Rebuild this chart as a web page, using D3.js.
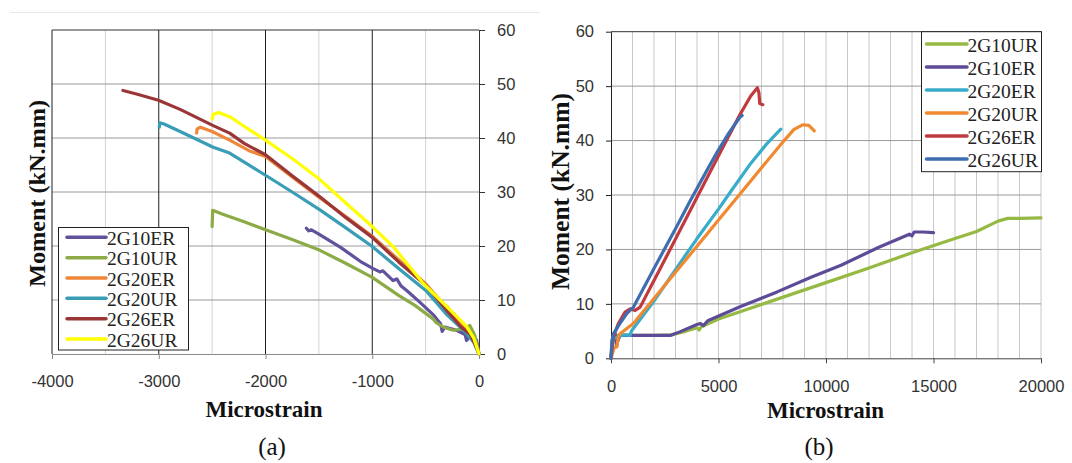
<!DOCTYPE html>
<html><head><meta charset="utf-8">
<script src="https://cdn.jsdelivr.net/npm/d3@7"></script>
<style>body{margin:0;background:#fff}svg{display:block}</style>
</head><body>
<svg id="c" width="1072" height="463"></svg>
<script>
// ---------- DATA: panel (a) [strain, moment] ----------
const a_2G10ER = [[-1617,23.3],[-1595,22.8],[-1570,23.0],[-1508,22.3],[-1300,19.8],[-1100,17.0],[-1000,15.9],[-929,15.2],[-900,15.4],[-805,13.6],[-770,13.9],[-730,12.6],[-680,11.8],[-555,9.6],[-430,7.3],[-360,5.6],[-345,4.2],[-320,5.0],[-211,4.4],[-130,3.6],[-117,2.5],[-90,3.1],[-23,2.6],[0,0]];
const a_2G10UR = [[-2500,23.6],[-2495,26.6],[-2400,25.9],[-2200,24.5],[-2000,23.0],[-1750,21.2],[-1490,19.2],[-1250,16.8],[-1000,14.2],[-750,10.8],[-600,9.0],[-430,6.5],[-400,5.8],[-337,5.0],[-243,4.4],[-150,4.6],[-86,5.3],[-40,3.5],[0,0]];
const a_2G20ER = [[-2645,40.9],[-2640,41.7],[-2610,42.0],[-2500,41.2],[-2336,39.6],[-2150,37.6],[-2000,36.6],[-1750,32.8],[-1490,28.9],[-1250,25.5],[-1000,21.8],[-750,17.4],[-500,13.0],[-330,9.2],[-290,8.6],[-200,6.0],[-100,4.5],[-40,2.5],[0,0]];
const a_2G20UR = [[-2995,42.0],[-2990,42.8],[-2950,42.6],[-2800,41.2],[-2490,38.3],[-2336,37.2],[-2000,33.1],[-1750,30.0],[-1490,26.7],[-1250,23.4],[-1000,19.9],[-750,15.8],[-490,11.6],[-297,7.2],[-135,4.2],[-50,2.2],[0,0]];
const a_2G26ER = [[-3335,48.8],[-3200,48.1],[-3003,47.0],[-2800,45.3],[-2490,42.3],[-2336,40.9],[-2200,39.0],[-2000,36.9],[-1750,33.0],[-1490,29.1],[-1250,25.3],[-1000,21.6],[-750,17.0],[-490,12.6],[-300,8.0],[-168,5.0],[-80,3.6],[-30,1.5],[0,0]];
const a_2G26UR = [[-2497,43.5],[-2490,44.4],[-2440,44.7],[-2330,43.9],[-2233,42.6],[-2000,39.6],[-1750,36.2],[-1490,32.3],[-1250,28.0],[-1000,23.6],[-800,19.8],[-524,13.1],[-305,8.8],[-200,6.8],[-117,5.1],[-50,3.0],[0,0]];
const namesA = ["2G10ER","2G10UR","2G20ER","2G20UR","2G26ER","2G26UR"];
const xTicksA = [-4000,-3000,-2000,-1000,0];
const yTicks = [0,10,20,30,40,50,60];

// ---------- DATA: panel (b) [strain, moment] ----------
const b_2G10UR = [[0,0],[50,3.5],[200,4.2],[800,4.2],[2000,4.2],[2800,4.3],[3500,5.0],[4000,5.6],[4100,5.2],[4200,5.8],[5000,7.2],[7000,9.9],[10000,13.9],[12000,16.6],[14000,19.4],[16000,22.0],[17000,23.3],[18000,25.2],[18450,25.7],[19000,25.7],[20000,25.8]];
const b_2G10ER = [[0,0],[80,3.8],[200,4.4],[266,2.2],[300,3.0],[420,4.2],[1000,4.2],[2000,4.2],[2757,4.2],[3224,4.9],[4000,6.2],[4159,6.4],[4300,6.0],[4500,6.9],[6028,9.5],[7727,12.2],[9303,14.9],[10700,17.1],[12458,20.4],[13878,22.8],[14000,22.5],[14100,23.2],[14500,23.2],[15000,23.1]];
const b_2G20ER = [[0,0],[100,3.5],[266,3.9],[600,4.3],[888,4.2],[950,5.0],[2000,10.5],[3000,16.3],[4000,22.0],[5000,27.4],[5561,30.6],[6500,35.8],[7200,39.2],[7897,42.1]];
const b_2G20UR = [[0,0],[150,2.0],[266,2.1],[343,3.9],[420,4.5],[1042,6.4],[2000,11.0],[3000,15.8],[4000,20.6],[5000,25.4],[6000,30.2],[7000,35.0],[8052,40.0],[8500,42.0],[8910,42.9],[9200,42.8],[9455,41.8]];
const b_2G26ER = [[0,0],[110,3.9],[343,6.4],[654,8.5],[888,9.1],[1121,8.8],[1355,9.4],[2000,14.3],[3000,21.9],[3925,29.0],[5000,37.2],[6000,44.8],[6500,48.2],[6808,49.7],[6880,48.8],[6920,46.8],[7060,46.6]];
const b_2G26UR = [[0,0],[40,3.0],[110,4.5],[420,6.4],[733,8.2],[1042,9.4],[2000,16.5],[3000,23.8],[3692,29.0],[4500,34.8],[5000,38.3],[5500,41.5],[6000,44.3],[6100,44.6]];
const namesB = ["2G10UR","2G10ER","2G20ER","2G20UR","2G26ER","2G26UR"];
const xTicksB = [0,5000,10000,15000,20000];

// ---------- STYLES ----------
const colorsA = ["#62519c","#8cab47","#ee873a","#3a9db6","#9b3637","#ffff00"];
const colorsB = ["#96b943","#5d4b99","#3aaccb","#f0892f","#c13a3f","#3e6eb0"];
const seriesA = [a_2G10ER,a_2G10UR,a_2G20ER,a_2G20UR,a_2G26ER,a_2G26UR];
const seriesB = [b_2G10UR,b_2G10ER,b_2G20ER,b_2G20UR,b_2G26ER,b_2G26UR];

const svg = d3.select("#c");
svg.append("rect").attr("width",1072).attr("height",463).attr("fill","#fff");
svg.append("line").attr("x1",10).attr("x2",540).attr("y1",12.5).attr("y2",12.5).attr("stroke","#e8e8e8");

const tickFont = "'Liberation Sans', Arial, sans-serif";
const serif = "'Liberation Serif', 'Times New Roman', serif";
const plainFmt = d => String(d);

function styleAxis(g, domainColor){
  g.selectAll("text").attr("font-family",tickFont).attr("font-size",16.5).attr("fill","#333");
  g.selectAll("line").attr("stroke",domainColor);
  g.select(".domain").attr("stroke",domainColor);
}

// ================= PANEL (a) =================
const xA = d3.scaleLinear().domain([-4000,0]).range([52,479]);
const yA = d3.scaleLinear().domain([0,60]).range([354,30]);
const gA = svg.append("g");

gA.selectAll(".vminA").data([-3500,-2500,-1500,-500]).join("line")
  .attr("x1",d=>xA(d)).attr("x2",d=>xA(d)).attr("y1",yA(60)).attr("y2",yA(0))
  .attr("stroke","#d2d2d2").attr("stroke-width",1);
gA.selectAll(".hA").data([10,20,30,40,50]).join("line")
  .attr("x1",xA(-4000)).attr("x2",xA(0)).attr("y1",d=>yA(d)).attr("y2",d=>yA(d))
  .attr("stroke","#9a9a9a").attr("stroke-width",1);
gA.selectAll(".vmajA").data([-4000,-3000,-2000,-1000]).join("line")
  .attr("x1",d=>xA(d)).attr("x2",d=>xA(d)).attr("y1",yA(60)).attr("y2",yA(0))
  .attr("stroke","#1e1e1e").attr("stroke-width",1);
gA.append("line").attr("x1",xA(-4000)).attr("x2",xA(0)).attr("y1",yA(60)).attr("y2",yA(60))
  .attr("stroke","#333").attr("stroke-width",1);

const axBA = gA.append("g").attr("transform",`translate(0,${yA(0)})`)
  .call(d3.axisBottom(xA).tickValues(xTicksA).tickSize(5).tickSizeOuter(0).tickPadding(16).tickFormat(plainFmt));
styleAxis(axBA,"#8a8a8a");
const axRA = gA.append("g").attr("transform",`translate(${xA(0)},0)`)
  .call(d3.axisRight(yA).tickValues(yTicks).tickSize(6).tickSizeOuter(0).tickPadding(12).tickFormat(plainFmt));
styleAxis(axRA,"#333");

const lineA = d3.line().x(d=>xA(d[0])).y(d=>yA(d[1]));
seriesA.forEach((s,i)=>{
  gA.append("path").datum(s).attr("d",lineA).attr("fill","none")
    .attr("stroke",colorsA[i]).attr("stroke-width",3.2)
    .attr("stroke-linejoin","round").attr("stroke-linecap","round");
});

// legend (a)
const legA = gA.append("g");
legA.append("rect").attr("x",58.5).attr("y",227.5).attr("width",130).attr("height",122.5)
  .attr("fill","#fff").attr("stroke","#222").attr("stroke-width",1);
namesA.forEach((n,i)=>{
  const cy = 238.3 + i*20.35;
  legA.append("line").attr("x1",67).attr("x2",106).attr("y1",cy-1).attr("y2",cy-1)
    .attr("stroke",colorsA[i]).attr("stroke-width",3.5).attr("stroke-linecap","round");
  legA.append("text").attr("x",107).attr("y",cy+6.5).text(n)
    .attr("font-family",serif).attr("font-size",19.5).attr("fill","#222");
});

gA.append("text").attr("x",264).attr("y",417).attr("text-anchor","middle")
  .attr("font-family",serif).attr("font-weight","bold").attr("font-size",23).attr("fill","#111")
  .text("Microstrain");
gA.append("text").attr("transform","translate(44.5,193.5) rotate(-90)").attr("text-anchor","middle")
  .attr("font-family",serif).attr("font-weight","bold").attr("font-size",24).attr("fill","#111")
  .attr("textLength",187).attr("lengthAdjust","spacingAndGlyphs")
  .text("Moment (kN.mm)");
gA.append("text").attr("x",272).attr("y",455).attr("text-anchor","middle")
  .attr("font-family",serif).attr("font-size",25).attr("fill","#111").text("(a)");

// ================= PANEL (b) =================
const xB = d3.scaleLinear().domain([0,20000]).range([611,1041]);
const yB = d3.scaleLinear().domain([0,60]).range([358.3,31.7]);
const gB = svg.append("g");

gB.selectAll(".vB").data(d3.range(1000,20001,1000)).join("line")
  .attr("x1",d=>xB(d)).attr("x2",d=>xB(d)).attr("y1",yB(60)).attr("y2",yB(0))
  .attr("stroke","#c8c8c8").attr("stroke-width",1);
gB.selectAll(".hB").data([10,20,30,40,50]).join("line")
  .attr("x1",xB(0)).attr("x2",xB(20000)).attr("y1",d=>yB(d)).attr("y2",d=>yB(d))
  .attr("stroke","#9a9a9a").attr("stroke-width",1);
gB.append("line").attr("x1",xB(0)).attr("x2",xB(20000)).attr("y1",yB(60)).attr("y2",yB(60))
  .attr("stroke","#333").attr("stroke-width",1);

const axLB = gB.append("g").attr("transform",`translate(${xB(0)},0)`)
  .call(d3.axisLeft(yB).tickValues(yTicks).tickSize(5).tickSizeOuter(0).tickPadding(12).tickFormat(plainFmt));
styleAxis(axLB,"#222");
const axBB = gB.append("g").attr("transform",`translate(0,${yB(0)})`)
  .call(d3.axisBottom(xB).tickValues(xTicksB).tickSize(5).tickSizeOuter(0).tickPadding(17).tickFormat(plainFmt));
styleAxis(axBB,"#444");

const lineB = d3.line().x(d=>xB(d[0])).y(d=>yB(d[1]));
seriesB.forEach((s,i)=>{
  gB.append("path").datum(s).attr("d",lineB).attr("fill","none")
    .attr("stroke",colorsB[i]).attr("stroke-width",3.2)
    .attr("stroke-linejoin","round").attr("stroke-linecap","round");
});

const legB = gB.append("g");
legB.append("rect").attr("x",921.5).attr("y",31.7).attr("width",120).attr("height",140)
  .attr("fill","#fff").attr("stroke","#222").attr("stroke-width",1);
namesB.forEach((n,i)=>{
  const cy = 45 + i*23;
  legB.append("line").attr("x1",926.5).attr("x2",967).attr("y1",cy-1).attr("y2",cy-1)
    .attr("stroke",colorsB[i]).attr("stroke-width",3.5).attr("stroke-linecap","round");
  legB.append("text").attr("x",967.5).attr("y",cy+6.5).text(n)
    .attr("font-family",serif).attr("font-size",19.5).attr("fill","#222");
});

gB.append("text").attr("x",825.5).attr("y",418).attr("text-anchor","middle")
  .attr("font-family",serif).attr("font-weight","bold").attr("font-size",23).attr("fill","#111")
  .text("Microstrain");
gB.append("text").attr("transform","translate(568.8,191.5) rotate(-90)").attr("text-anchor","middle")
  .attr("font-family",serif).attr("font-weight","bold").attr("font-size",24.5).attr("fill","#111")
  .attr("textLength",197).attr("lengthAdjust","spacingAndGlyphs")
  .text("Moment (kN.mm)");
gB.append("text").attr("x",819).attr("y",455).attr("text-anchor","middle")
  .attr("font-family",serif).attr("font-size",25).attr("fill","#111").text("(b)");
</script>
</body></html>
